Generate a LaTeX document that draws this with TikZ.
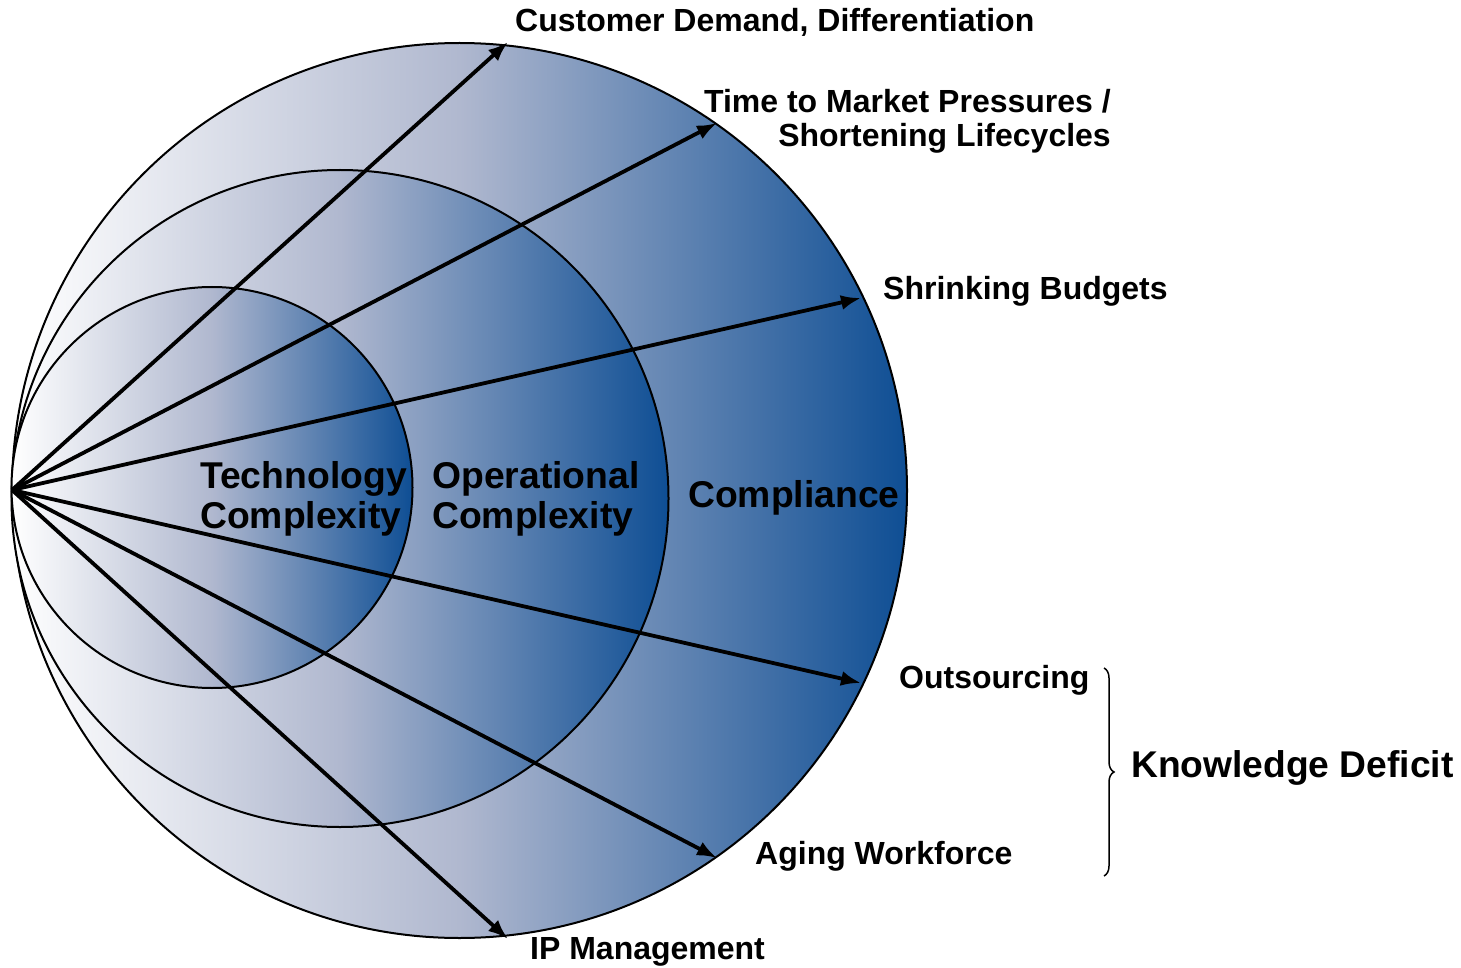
\documentclass[tikz,border=0pt]{standalone}
\usepackage{fontspec}
\setmainfont{Liberation Sans}
\usetikzlibrary{arrows.meta,decorations.pathreplacing}
\definecolor{cblue}{RGB}{14,78,148}
\definecolor{cmid}{RGB}{176,184,207}
\tikzset{
  ring/.style={left color=white, right color=cblue, middle color=cmid},
  ringline/.style={draw=black, line width=2pt},
  force/.style={line width=3.8pt, -{Latex[length=20pt,width=15pt]}},
  outlbl/.style={font=\fontsize{32}{34}\selectfont\bfseries, inner sep=0pt, text=black},
  inlbl/.style={font=\fontsize{37.3}{40}\selectfont\bfseries, inner sep=0pt, align=left, text=black},
}
\begin{document}
\begin{tikzpicture}[x=1pt,y=-1pt]
\useasboundingbox (0,0) rectangle (1461,968);
\coordinate (cL) at (459.5,490.5);
\coordinate (cM) at (340,498.5);
\coordinate (cS) at (212,487.5);
\coordinate (o) at (12,490);
% circles
\shade[ring] (cL) circle[radius=447.5pt];
\draw[ringline] (cL) circle[radius=447.5pt];
\shade[ring] (cM) circle[radius=328.5pt];
\draw[ringline] (cM) circle[radius=328.5pt];
\shade[ring] (cS) circle[radius=200.5pt];
\draw[ringline] (cS) circle[radius=200.5pt];
% arrow end points
\coordinate (e1) at (508,42);
\coordinate (e2) at (717,123);
\coordinate (e3) at (861,298);
\coordinate (e4) at (861,683);
\coordinate (e5) at (717,858);
\coordinate (e6) at (508,939);
\foreach \e in {e1,e2,e3,e4,e5,e6} \draw[force] (o) -- (\e);
% inner labels
\node[inlbl, anchor=west] (tech) at (200,499) {Technology\\Complexity};
\node[inlbl, anchor=west] (oper) at (432,499) {Operational\\Complexity};
\node[inlbl, anchor=west] (comp) at (688,498) {Compliance};
% outer labels
\node[outlbl, anchor=west] (l1) at (515,22) {Customer Demand, Differentiation};
\node[outlbl, anchor=east, align=right] (l2) at (1111,121) {Time to Market Pressures /\\Shortening Lifecycles};
\node[outlbl, anchor=west] (l3) at (883,291) {Shrinking Budgets};
\node[outlbl, anchor=west] (l4) at (899,680) {Outsourcing};
\node[outlbl, anchor=west] (l5) at (755,856) {Aging Workforce};
\node[outlbl, anchor=west] (l6) at (530,952) {IP Management};
% brace
\coordinate (b1) at (1104,668);
\coordinate (b2) at (1104,876);
\draw[line width=1.5pt, decorate, decoration={brace, amplitude=10pt}] (b1) -- (b2);
\node[font=\fontsize{37.2}{40}\selectfont\bfseries, inner sep=0pt, anchor=west] (kd) at (1131,768) {Knowledge Deficit};
\end{tikzpicture}
\end{document}
